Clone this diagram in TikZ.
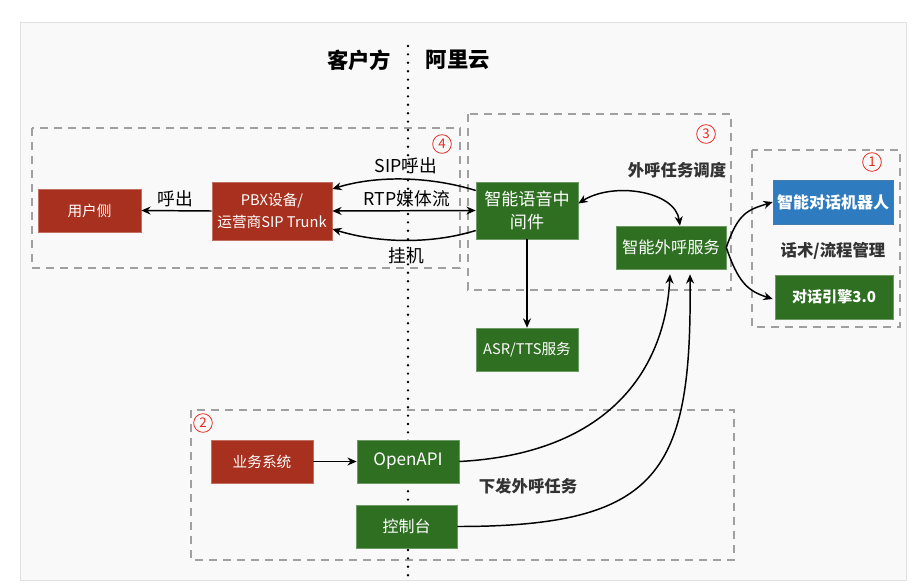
\documentclass[tikz,border=0pt]{standalone}
\usepackage{fontspec}
\setmainfont{Noto Sans CJK SC}
\usetikzlibrary{arrows.meta,calc}
\definecolor{bred}{HTML}{A8301E}
\definecolor{bgreen}{HTML}{2F6F22}
\definecolor{bblue}{HTML}{2E7BBF}
\definecolor{dashgray}{HTML}{A0A0A0}
\definecolor{lbl}{HTML}{333333}
\definecolor{numred}{HTML}{E8281E}
\begin{document}
\begin{tikzpicture}[x=0.75pt,y=-0.75pt,
  boxsz/.style 2 args={minimum width=#1*0.75pt, minimum height=#2*0.75pt, inner sep=1pt, align=center},
  redbox/.style={fill=bred, text=white, draw=bred!70!white, line width=0.4pt, font=\fontsize{11}{16.5}\selectfont},
  greenbox/.style={fill=bgreen, text=white, draw=bgreen!70!white, line width=0.4pt, font=\fontsize{11}{16}\selectfont},
  bluebox/.style={fill=bblue, text=white, draw=bblue!70!gray, line width=0.4pt, font=\bfseries\fontsize{12}{14}\selectfont},
  grp/.style={draw=dashgray, line width=0.9pt, dash pattern=on 6pt off 4.5pt},
  numc/.style={circle, draw=numred, text=numred, line width=0.6pt, minimum size=14pt, inner sep=0pt, font=\fontsize{10}{10}\selectfont},
  conn/.style={line width=1.1pt, -{Stealth[length=7pt,width=6pt]}},
  conn2/.style={line width=1.1pt, {Stealth[length=7pt,width=6pt]}-{Stealth[length=7pt,width=6pt]}},
  plainlbl/.style={font=\fontsize{13.3}{15}\selectfont, text=black},
  boldlbl/.style={font=\bfseries\fontsize{12.3}{14}\selectfont, text=lbl},
  dotline/.style={line width=2pt, line cap=round, dash pattern=on 0pt off 6.3pt}
]
\useasboundingbox (0,0) rectangle (923,585);
\fill[white] (0,0) rectangle (923,585);
% panel
\draw[draw=black!12, fill=black!2.5, line width=0.6pt] (20,22) rectangle (906,580);

% group boxes
\draw[grp] (32,128) rectangle (460,268);
\draw[grp] (468,114) rectangle (731,290);
\draw[grp] (752,150) rectangle (900,327);
\draw[grp] (191,410) rectangle (734,560);

% divider
\coordinate (dtop) at (408,46);
\coordinate (dbot) at (408,578);
\draw[dotline] (dtop) -- (dbot);

% titles
\node[font=\bfseries\fontsize{16}{18}\selectfont, anchor=east] (kh) at (396,60) {客户方};
\node[font=\bfseries\fontsize{16}{18}\selectfont, anchor=west] (aly) at (421,60) {阿里云};

% numbers
\node[numc] (n4) at (442,144) {4};
\node[numc] (n3) at (706,134) {3};
\node[numc] (n1) at (872,162) {1};
\node[numc] (n2) at (203,423) {2};

% nodes
\node[redbox, boxsz={103}{43}] (user) at (89.5,210.5) {用户侧};
\node[redbox, boxsz={120}{58}] (pbx) at (272,211) {PBX设备/\\运营商SIP Trunk};
\node[greenbox, boxsz={102}{57}, font=\fontsize{12.8}{17.5}\selectfont] (zy) at (527,210.5) {智能语音中\\间件};
\node[greenbox, boxsz={102}{43}] (asr) at (527,349.5) {ASR/TTS服务};
\node[greenbox, boxsz={110}{43}, font=\fontsize{12.2}{14}\selectfont] (wh) at (671,247.5) {智能外呼服务};
\node[bluebox, boxsz={120}{44}] (robot) at (833,202) {智能对话机器人};
\node[greenbox, boxsz={118}{44}, font=\bfseries\fontsize{11.3}{13}\selectfont] (engine) at (834,297) {对话引擎3.0};
\node[redbox, boxsz={102}{43}] (biz) at (262,461.5) {业务系统};
\node[greenbox, boxsz={102}{43}, font=\fontsize{12.8}{14}\selectfont] (api) at (408,461.5) {OpenAPI};
\node[greenbox, boxsz={101}{43}, font=\fontsize{12}{14}\selectfont] (console) at (406.5,526.5) {控制台};

% labels
\node[plainlbl] (lhc) at (175,199) {呼出};
\node[plainlbl] (lsip) at (406,166) {SIP呼出};
\node[plainlbl] (lrtp) at (407,199) {RTP媒体流};
\node[plainlbl] (lgj) at (406,256) {挂机};
\node[boldlbl] (lrw) at (677,170) {外呼任务调度};
\node[boldlbl] (lhs) at (833,251) {话术/流程管理};
\node[boldlbl] (lxf) at (528,486) {下发外呼任务};

% connectors
\draw[conn] (pbx.west) -- (user.east);
\draw[conn2] (pbx.east) -- (zy.west);
\draw[conn] ($(zy.west)+(0,-20)$) .. controls +(-45,-14) and +(45,-14) .. ($(pbx.east)+(0,-22)$);
\draw[conn] ($(zy.west)+(0,20)$) .. controls +(-45,14) and +(45,14) .. ($(pbx.east)+(0,18)$);
\draw[conn] (zy.south) -- (asr.north);
\draw[conn2] ($(zy.east)+(0,-7)$) .. controls +(35,-22) and +(-5,-35) .. ($(wh.north)+(9,0)$);
\draw[conn] (wh.east) .. controls +(12,-35) and +(-25,8) .. ($(robot.west)+(0,0)$);
\draw[conn] (wh.east) .. controls +(12,35) and +(-25,-8) .. ($(engine.west)+(-2,2)$);
\draw[conn] (biz.east) -- (api.west);
\draw[conn] (api.east) .. controls +(150,-8) and +(-5,95) .. ($(wh.south)+(-1,5)$);
\draw[conn] (console.east) .. controls +(203,0) and +(2,198) .. ($(wh.south)+(19,5)$);
\end{tikzpicture}
\end{document}
